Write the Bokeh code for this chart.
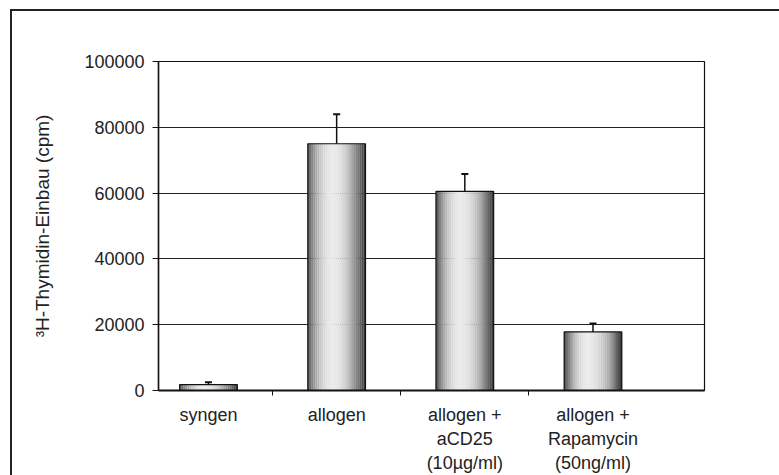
from bokeh.plotting import figure
from bokeh.models import (ColumnDataSource, Range1d, FixedTicker, NumeralTickFormatter,
                          Whisker, TeeHead)
from bokeh.transform import dodge
from bokeh.embed import file_html
from bokeh.resources import INLINE

categories = ["syngen", "allogen", "allogen +\naCD25\n(10µg/ml)", "allogen +\nRapamycin\n(50ng/ml)"]
values = [1800, 75000, 60500, 17800]
upper = [2500, 84000, 65800, 20400]
y_ticks = [0, 20000, 40000, 60000, 80000, 100000]

idx = list(range(len(categories)))
src = ColumnDataSource(dict(x=idx, top=values, upper=upper))

FONT = "Liberation Sans"
OX, OY = 10, 9  # outer chart frame offset
p = figure(width=779 - OX, height=475 - OY, output_backend="svg", toolbar_location=None,
           x_range=Range1d(-0.39, 3.87), y_range=Range1d(0, 100000),
           min_border_left=146, min_border_right=77, min_border_top=50,
           min_border_bottom=87)
p.styles = {"margin-left": f"{OX}px", "margin-top": f"{OY}px",
            "border-left": "2px solid #222222", "border-top": "2px solid #222222"}
p.background_fill_color = "white"
p.border_fill_color = "white"
p.outline_line_color = "#111111"
p.outline_line_width = 1.2

# gradient bars built from strips
BW = 0.45
N = 30
for i in range(N):
    t = (i + 0.5) / N
    L = 0.2 + 0.72 * (1 - ((t - 0.42) / 0.58) ** 2)
    if t < 0.42:
        L = 0.3 + 0.62 * (1 - ((t - 0.42) / 0.42) ** 2)
    g = int(round(L * 255))
    col = "#%02x%02x%02x" % (g, g, g)
    off = -BW / 2 + (i + 0.5) * BW / N
    p.vbar(x=dodge("x", off), top="top", bottom=0, width=BW / N * 1.08, source=src,
           fill_color=col, line_color=None)
p.vbar(x="x", top="top", bottom=0, width=BW, source=src, fill_alpha=0,
       line_color="#111111", line_width=1.2)

wh = Whisker(base="x", lower="top", upper="upper", source=src, line_color="#111111",
             line_width=1.5, upper_head=TeeHead(size=7, line_color="#111111", line_width=2),
             lower_head=None)
p.add_layout(wh)

# y axis
p.yaxis.ticker = FixedTicker(ticks=y_ticks)
p.yaxis.formatter = NumeralTickFormatter(format="0")
p.yaxis.axis_label = "³H-Thymidin-Einbau (cpm)"
p.yaxis.axis_label_text_font = FONT
p.yaxis.axis_label_text_font_style = "normal"
p.yaxis.axis_label_text_font_size = "19px"
p.yaxis.axis_label_text_color = "#222222"
p.yaxis.axis_label_standoff = 28
p.yaxis.major_label_text_font = FONT
p.yaxis.major_label_text_font_size = "18px"
p.yaxis.major_label_text_color = "#222222"
p.yaxis.major_label_standoff = 8
p.yaxis.major_tick_in = 0
p.yaxis.major_tick_out = 6
p.yaxis.minor_tick_line_color = None
p.yaxis.axis_line_color = "#111111"
p.yaxis.axis_line_width = 1.5
p.yaxis.major_tick_line_color = "#111111"

# x axis
p.xaxis.ticker = FixedTicker(ticks=idx, minor_ticks=[k + 0.5 for k in idx[:-1]])
p.xaxis.major_label_overrides = {k: c for k, c in zip(idx, categories)}
p.xaxis.major_label_text_font = FONT
p.xaxis.major_label_text_font_size = "18px"
p.xaxis.major_label_text_color = "#222222"
p.xaxis.major_label_standoff = 8
p.xaxis.major_tick_line_color = None
p.xaxis.minor_tick_in = 0
p.xaxis.minor_tick_out = 5
p.xaxis.minor_tick_line_color = "#111111"
p.xaxis.axis_line_color = "#111111"
p.xaxis.axis_line_width = 2

p.xgrid.grid_line_color = None
p.ygrid.ticker = FixedTicker(ticks=y_ticks)
p.ygrid.grid_line_color = "#222222"
p.ygrid.grid_line_width = 1

open("out.html", "w").write(file_html(p, INLINE))
